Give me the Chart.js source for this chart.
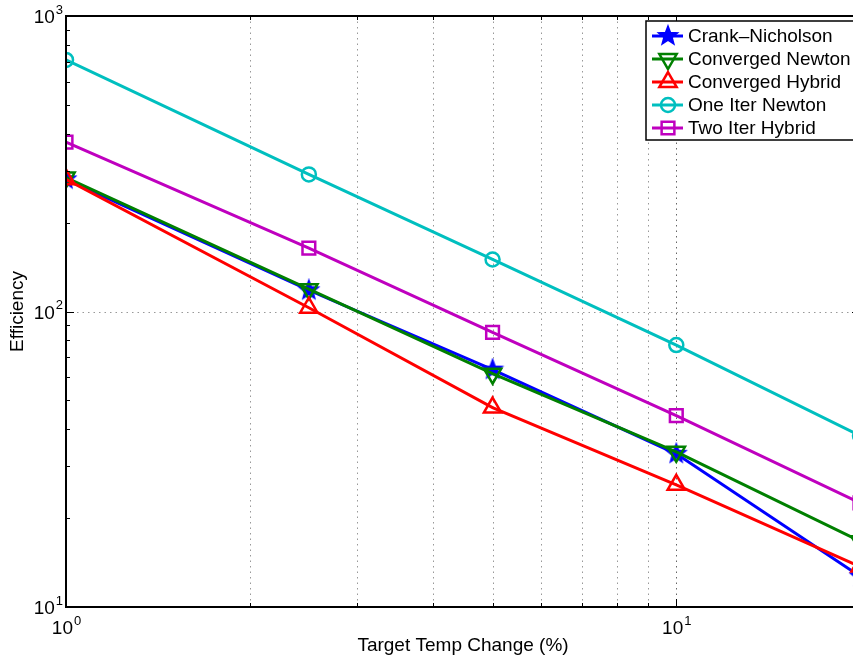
<!DOCTYPE html>
<html>
<head>
<meta charset="utf-8">
<script src="https://cdn.jsdelivr.net/npm/chart.js@4.4.0/dist/chart.umd.min.js"></script>
<style>
html, body { margin: 0; padding: 0; background: #fff; overflow: hidden; }
canvas { display: block; }
</style>
</head>
<body>
<canvas id="effChart" width="880" height="662"></canvas>
<script>
// Target temperature change (%) for each run
const tempChange = [1, 2.5, 5, 10, 20];

// Efficiency of each solver
const crankNicholson = [280, 118, 63.6, 33, 12.7];
const convergedNewton = [284, 119, 61.6, 33.5, 16.7];
const convergedHybrid = [280, 103, 47.3, 25.9, 13.7];
const oneIterNewton = [710, 291, 150, 77, 38];
const twoIterHybrid = [374, 164, 85, 44.4, 22.5];

const seriesNames = ['Crank\u2013Nicholson', 'Converged Newton', 'Converged Hybrid', 'One Iter Newton', 'Two Iter Hybrid'];

// axis ticks (powers of ten) and minor ticks
const xMajor = [1, 10];
const xMinor = [2, 3, 4, 5, 6, 7, 8, 9, 20];
const yMajor = [10, 100, 1000];
const yMinor = [20, 30, 40, 50, 60, 70, 80, 90, 200, 300, 400, 500, 600, 700, 800, 900];

const FONT = '"Liberation Sans", Arial, Helvetica, sans-serif';

// filled five point star, MATLAB pentagram look
function makeStar(color, r) {
    const c = document.createElement('canvas');
    const s = Math.ceil(r * 2 + 4);
    c.width = s; c.height = s;
    const g = c.getContext('2d');
    g.beginPath();
    for (let i = 0; i < 10; i++) {
        const rad = i % 2 === 0 ? r : r * 0.42;
        const a = -Math.PI / 2 + i * Math.PI / 5;
        const px = s / 2 + rad * Math.cos(a);
        const py = s / 2 + rad * Math.sin(a);
        if (i === 0) g.moveTo(px, py); else g.lineTo(px, py);
    }
    g.closePath();
    g.fillStyle = color;
    g.fill();
    g.strokeStyle = color;
    g.lineWidth = 1.5;
    g.stroke();
    return c;
}

const colors = ['#0000ff', '#008000', '#ff0000', '#00bfbf', '#bf00bf'];
const values = [crankNicholson, convergedNewton, convergedHybrid, oneIterNewton, twoIterHybrid];
const markers = [
    { pointStyle: makeStar('#0000ff', 10), radius: 10, rotation: 0 },
    { pointStyle: 'triangle', radius: 10, rotation: 180 },
    { pointStyle: 'triangle', radius: 10, rotation: 0 },
    { pointStyle: 'circle', radius: 7, rotation: 0 },
    { pointStyle: 'rect', radius: 9, rotation: 0 }
];

const datasets = values.map((vals, i) => ({
    label: seriesNames[i],
    data: tempChange.map((x, j) => ({ x: x, y: vals[j] })),
    borderColor: colors[i],
    backgroundColor: colors[i],
    borderWidth: 3,
    pointStyle: markers[i].pointStyle,
    pointRadius: markers[i].radius,
    pointRotation: markers[i].rotation,
    pointBorderWidth: 2.5,
    pointBorderColor: colors[i],
    pointBackgroundColor: 'rgba(0,0,0,0)',
    tension: 0,
    order: 5 - i
}));

function drawPower(ctx, exp, x, y, align) {
    ctx.save();
    ctx.fillStyle = '#000';
    ctx.textBaseline = 'middle';
    ctx.textAlign = 'left';
    ctx.font = '19px ' + FONT;
    const wb = ctx.measureText('10').width;
    ctx.font = '13px ' + FONT;
    const we = ctx.measureText(String(exp)).width;
    let left;
    if (align === 'center') left = x - (wb + we) / 2;
    else left = x - wb - we;
    ctx.font = '19px ' + FONT;
    ctx.fillText('10', left, y);
    ctx.font = '13px ' + FONT;
    ctx.fillText(String(exp), left + wb + 1, y - 8);
    ctx.restore();
}

const axesPlugin = {
    id: 'matlabAxes',
    beforeDatasetsDraw(chart) {
        const { ctx, chartArea: a, scales: { x, y } } = chart;
        ctx.save();
        ctx.lineWidth = 1;
        ctx.setLineDash([1.5, 4]);
        // vertical grid, major + minor
        xMajor.concat(xMinor).forEach(v => {
            const px = Math.round(x.getPixelForValue(v)) + 0.5;
            ctx.strokeStyle = xMajor.includes(v) ? '#666' : '#999';
            ctx.beginPath();
            ctx.moveTo(px, a.top);
            ctx.lineTo(px, a.bottom);
            ctx.stroke();
        });
        // horizontal grid, major only
        yMajor.forEach(v => {
            const py = Math.round(y.getPixelForValue(v)) + 0.5;
            ctx.strokeStyle = '#999';
            ctx.beginPath();
            ctx.moveTo(a.left, py);
            ctx.lineTo(a.right, py);
            ctx.stroke();
        });
        ctx.restore();
    },
    afterDatasetsDraw(chart) {
        const { ctx, chartArea: a, scales: { x, y } } = chart;
        ctx.save();
        ctx.strokeStyle = '#000';
        ctx.lineWidth = 1;
        // inside tick marks
        const tick = (px, py, dx, dy) => {
            ctx.beginPath();
            ctx.moveTo(px, py);
            ctx.lineTo(px + dx, py + dy);
            ctx.stroke();
        };
        xMajor.forEach(v => {
            const px = Math.round(x.getPixelForValue(v)) + 0.5;
            tick(px, a.bottom, 0, -8);
            tick(px, a.top, 0, 8);
        });
        xMinor.forEach(v => {
            const px = Math.round(x.getPixelForValue(v)) + 0.5;
            tick(px, a.bottom, 0, -4);
            tick(px, a.top, 0, 4);
        });
        yMajor.forEach(v => {
            const py = Math.round(y.getPixelForValue(v)) + 0.5;
            tick(a.left, py, 8, 0);
            tick(a.right, py, -8, 0);
        });
        yMinor.forEach(v => {
            const py = Math.round(y.getPixelForValue(v)) + 0.5;
            tick(a.left, py, 4, 0);
            tick(a.right, py, -4, 0);
        });
        // axes box
        ctx.lineWidth = 2;
        ctx.strokeRect(a.left, a.top, a.right - a.left, a.bottom - a.top);
        ctx.restore();

        // tick labels
        xMajor.forEach(v => drawPower(ctx, Math.round(Math.log10(v)), x.getPixelForValue(v), a.bottom + 22, 'center'));
        yMajor.forEach(v => drawPower(ctx, Math.round(Math.log10(v)), a.left - 4, y.getPixelForValue(v) + 2, 'right'));

        // axis titles
        ctx.save();
        ctx.fillStyle = '#000';
        ctx.font = '19px ' + FONT;
        ctx.textAlign = 'center';
        ctx.textBaseline = 'middle';
        ctx.fillText('Target Temp Change (%)', (a.left + a.right) / 2, 646);
        ctx.translate(18, (a.top + a.bottom) / 2);
        ctx.rotate(-Math.PI / 2);
        ctx.fillText('Efficiency', 0, 0);
        ctx.restore();

        // legend box
        ctx.save();
        const lx = 646, ly = 21, lw = 240, lh = 119;
        ctx.fillStyle = '#fff';
        ctx.fillRect(lx, ly, lw, lh);
        ctx.strokeStyle = '#000';
        ctx.lineWidth = 1.5;
        ctx.strokeRect(lx, ly, lw, lh);
        chart.data.datasets.forEach((ds, i) => {
            const ry = 36 + i * 23;
            ctx.strokeStyle = ds.borderColor;
            ctx.lineWidth = 3;
            ctx.beginPath();
            ctx.moveTo(652, ry);
            ctx.lineTo(683, ry);
            ctx.stroke();
            ctx.lineWidth = 2.5;
            ctx.fillStyle = 'rgba(0,0,0,0)';
            Chart.helpers.drawPoint(ctx, {
                pointStyle: ds.pointStyle,
                rotation: ds.pointRotation,
                radius: ds.pointRadius,
                borderWidth: 2.5
            }, 668, ry);
            ctx.fillStyle = '#000';
            ctx.font = '19px ' + FONT;
            ctx.textAlign = 'left';
            ctx.textBaseline = 'middle';
            ctx.fillText(ds.label, 688, ry + 1);
        });
        ctx.restore();
    }
};

new Chart(document.getElementById('effChart').getContext('2d'), {
    type: 'line',
    data: { datasets: datasets },
    options: {
        responsive: false,
        animation: false,
        layout: { padding: { left: 66, top: 16, right: 20, bottom: 55 } },
        scales: {
            x: { type: 'logarithmic', min: 1, max: 20, display: false },
            y: { type: 'logarithmic', min: 10, max: 1000, display: false }
        },
        plugins: {
            legend: { display: false },
            tooltip: { enabled: false }
        }
    },
    plugins: [axesPlugin]
});
</script>
</body>
</html>
